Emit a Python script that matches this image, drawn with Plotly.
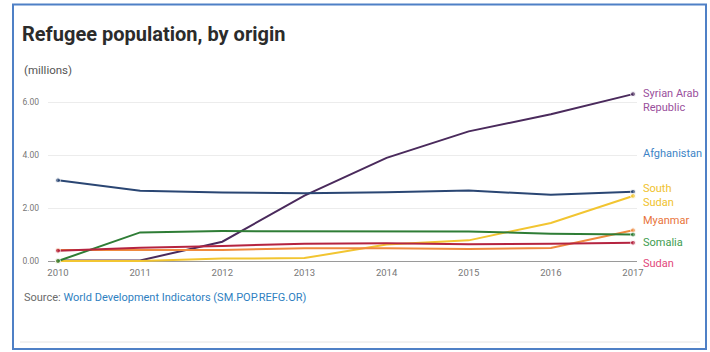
import plotly.graph_objects as go

# ---- data (millions of refugees, by country of origin) ----
years = [2010, 2011, 2012, 2013, 2014, 2015, 2016, 2017]
countries = ["Syrian Arab Republic", "Afghanistan", "South Sudan", "Myanmar", "Somalia", "Sudan"]
syria = [0.02, 0.02, 0.73, 2.47, 3.90, 4.90, 5.55, 6.31]
afghanistan = [3.05, 2.66, 2.59, 2.56, 2.60, 2.67, 2.50, 2.62]
south_sudan = [0.0, 0.0, 0.09, 0.11, 0.62, 0.78, 1.44, 2.46]
myanmar = [0.42, 0.41, 0.42, 0.48, 0.48, 0.45, 0.49, 1.16]
somalia = [0.0, 1.08, 1.13, 1.12, 1.12, 1.12, 1.03, 1.00]
sudan = [0.39, 0.50, 0.57, 0.65, 0.67, 0.63, 0.65, 0.69]
y_ticks = [0, 2, 4, 6]
y_tick_labels = ["0.00", "2.00", "4.00", "6.00"]

series = [syria, afghanistan, south_sudan, myanmar, somalia, sudan]

# ---- styling ----
W, H = 710, 352
PL, PR, PT, PB = 48, 637, 90, 262          # plot-area edges in pixels
line_colors = ["#4a2a5c", "#2a4673", "#f2c531", "#ef8a3e", "#2f7d36", "#b52440"]
label_colors = ["#9a4f9c", "#3d84c6", "#f0c22c", "#e8743a", "#3e9c50", "#e2487c"]
end_labels = ["Syrian Arab<br>Republic", "Afghanistan", "South<br>Sudan", "Myanmar", "Somalia", "Sudan"]
label_px = [100, 153, 195, 220, 242, 263]   # de-overlapped label centres (pixels from top)

FONT = "Roboto, Arial, sans-serif"


def px_x(p):
    return (p - PL) / (PR - PL)


def px_y(p):
    return (PB - p) / (PB - PT)


fig = go.Figure()
n = len(years)
for name, vals, lc in zip(countries, series, line_colors):
    fig.add_trace(go.Scatter(
        x=years, y=vals, name=name, mode="lines+markers",
        line=dict(color=lc, width=2),
        marker=dict(color=lc, size=[5] + [0] * (n - 2) + [5]),
        cliponaxis=False,
        hovertemplate="%{x}: %{y:.2f}M<extra>" + name + "</extra>",
    ))

# end-of-line labels
for txt, py, col in zip(end_labels, label_px, label_colors):
    fig.add_annotation(
        x=years[-1], y=px_y(py), xref="x", yref="paper", text=txt, showarrow=False,
        xanchor="left", yanchor="middle", align="left", xshift=8,
        font=dict(family=FONT, size=11, color=col),
    )

# subtitle and source line
fig.add_annotation(
    x=px_x(22), y=px_y(70), xref="paper", yref="paper", text="(millions)",
    showarrow=False, xanchor="left", yanchor="middle",
    font=dict(family=FONT, size=11.5, color="#555555"),
)
fig.add_annotation(
    x=px_x(22), y=px_y(297), xref="paper", yref="paper",
    text="<span style='color:#6b6b6b'>Source: </span>"
         "<span style='color:#2f7fc1'>World Development Indicators (SM.POP.REFG.OR)</span>",
    showarrow=False, xanchor="left", yanchor="middle",
    font=dict(family=FONT, size=11),
)

# card frame and footer rule
fig.add_shape(type="rect", xref="paper", yref="paper",
              x0=px_x(13), x1=px_x(706), y0=px_y(349), y1=px_y(4.5),
              line=dict(color="#4f80c6", width=2), fillcolor="rgba(0,0,0,0)", layer="below")
fig.add_shape(type="line", xref="paper", yref="paper",
              x0=px_x(20), x1=px_x(700), y0=px_y(342), y1=px_y(342),
              line=dict(color="#e4e4e4", width=1))

per_year = (633 - 58) / 7
per_unit = 26.45
fig.update_layout(
    width=W, height=H,
    margin=dict(l=PL, r=W - PR, t=PT, b=H - PB, pad=0),
    paper_bgcolor="white", plot_bgcolor="white",
    showlegend=False,
    title=dict(text="Refugee population, by origin", x=22 / W, xanchor="left",
               xref="container", yref="container", y=1 - 34 / H, yanchor="middle",
               font=dict(family=FONT, size=20, color="#2b2b2b", weight="bold")),
    xaxis=dict(
        range=[years[0] - (58 - PL) / per_year, years[-1] + (PR - 633) / per_year],
        tickmode="array", tickvals=years, ticktext=[str(y) for y in years],
        showgrid=False, zeroline=False, showline=False, ticks="",
        ticklabelstandoff=3,
        tickfont=dict(family=FONT, size=9.5, color="#777777"),
    ),
    yaxis=dict(
        range=[-(PB - 261) / per_unit, (261 - PT) / per_unit],
        tickmode="array", tickvals=y_ticks, ticktext=y_tick_labels,
        showgrid=True, gridcolor="#ececec", gridwidth=1,
        zeroline=True, zerolinecolor="#9a9a9a", zerolinewidth=1,
        showline=False, ticks="", ticklabelstandoff=8,
        tickfont=dict(family=FONT, size=8.5, color="#777777"),
    ),
)

fig.write_html("out.html")
